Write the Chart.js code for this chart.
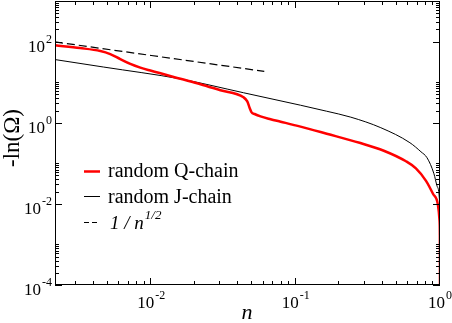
<!DOCTYPE html>
<html>
<head>
<meta charset="utf-8">
<script src="https://cdn.jsdelivr.net/npm/chart.js@4.4.1/dist/chart.umd.min.js"></script>
<style>
  html, body { margin: 0; padding: 0; background: #fff; }
</style>
</head>
<body>
<canvas id="chart" width="452" height="323"></canvas>
<script>
// values
const qChainN = [0.00215, 0.00321, 0.00443, 0.00519, 0.00609, 0.00715, 0.00839, 0.00984, 0.0159, 0.0219, 0.0301,
                 0.0435, 0.0462, 0.048, 0.0495, 0.0519, 0.0571, 0.067, 0.0787, 0.108, 0.164, 0.277, 0.408, 0.581,
                 0.681, 0.80, 0.894, 0.968, 0.992, 0.998, 0.9995, 0.9999];
const qChainV = [81.2, 69.2, 58.3, 49.1, 37.0, 28.2, 22.8, 19.3, 12.1, 8.9, 6.3,
                 4.24, 3.36, 2.31, 1.80, 1.64, 1.43, 1.22, 1.06, 0.80, 0.535, 0.32, 0.204, 0.112,
                 0.075, 0.037, 0.0177, 0.0094, 0.004, 0.0017, 0.0003, 0.00005];

const jChainN = [0.00215, 0.00465, 0.0159, 0.0436, 0.108, 0.164, 0.241, 0.389, 0.619, 0.738, 0.813, 0.908, 0.953,
                 0.989, 0.997, 0.9995, 0.99995];
const jChainV = [36, 23.6, 12.0, 5.47, 2.70, 1.92, 1.37, 0.753, 0.321, 0.192, 0.137, 0.0551, 0.0278,
                 0.0141, 0.005, 0.001, 0.0001];

const powerN = [0.00215, 0.01, 0.0606];
const powerV = [98, 45.4, 18.4];

const xTickLabels = [0.01, 0.1, 1];
const yTickLabels = [1e-4, 1e-2, 1, 1e2];

const serif = "'Liberation Serif', 'Times New Roman', serif";

function toPoints(ns, vs) {
    return ns.map((n, i) => ({ x: n, y: vs[i] }));
}

// "10" with a raised exponent, anchored at x (align: 'center' or 'right')
function drawPow(ctx, v, x, baseY, expY, align) {
    const exp = String(Math.round(Math.log10(v)));
    ctx.font = '17px ' + serif;
    const wb = ctx.measureText('10').width;
    ctx.font = '12px ' + serif;
    const we = ctx.measureText(exp).width;
    let left = align === 'right' ? x - wb - we - 1 : x - (wb + we + 1) / 2;
    ctx.textAlign = 'left';
    ctx.textBaseline = 'alphabetic';
    ctx.font = '17px ' + serif;
    ctx.fillText('10', left, baseY);
    ctx.font = '12px ' + serif;
    ctx.fillText(exp, left + wb + 1, expY);
}

const framePlugin = {
    id: 'frame',
    afterDraw(chart) {
        const ctx = chart.ctx;
        const a = chart.chartArea;
        const xs = chart.scales.x, ys = chart.scales.y;
        ctx.save();
        ctx.strokeStyle = '#000';
        ctx.lineWidth = 1;

        // inward ticks on all four sides
        ctx.beginPath();
        for (let e = -3; e <= 0; e++) {
            for (let k = 1; k <= 9; k++) {
                const v = k * Math.pow(10, e);
                if (v < xs.min || v > xs.max * 1.0001) continue;
                const px = Math.round(xs.getPixelForValue(v)) - 0.5;
                const len = k === 1 ? 7 : 4;
                ctx.moveTo(px, a.bottom); ctx.lineTo(px, a.bottom - len);
                ctx.moveTo(px, a.top); ctx.lineTo(px, a.top + len);
            }
        }
        for (let e = -4; e <= 3; e++) {
            const kmax = (e % 2 === 0) ? 9 : 1;
            for (let k = 1; k <= kmax; k++) {
                const v = k * Math.pow(10, e);
                if (v < ys.min || v > ys.max * 1.0001) continue;
                const py = Math.round(ys.getPixelForValue(v)) + 0.5;
                const len = (k === 1 && e % 2 === 0) ? 7 : 4;
                ctx.moveTo(a.left, py); ctx.lineTo(a.left + len, py);
                ctx.moveTo(a.right, py); ctx.lineTo(a.right - len, py);
            }
        }
        ctx.stroke();

        ctx.strokeRect(a.left + 0.5, a.top + 0.5, a.right - a.left - 1, a.bottom - a.top - 1);

        // tick labels
        ctx.fillStyle = '#000';
        xTickLabels.forEach(v => {
            drawPow(ctx, v, xs.getPixelForValue(v), 308, 299, 'center');
        });
        yTickLabels.forEach(v => {
            const py = ys.getPixelForValue(v);
            drawPow(ctx, v, 52, py + 10, py + 1, 'right');
        });

        // axis titles
        ctx.font = 'italic 22px ' + serif;
        ctx.textAlign = 'center';
        ctx.fillText('n', 247, 319);
        ctx.save();
        ctx.translate(19, 138);
        ctx.rotate(-Math.PI / 2);
        ctx.font = '23px ' + serif;
        ctx.fillText('-ln(\u03A9)', 0, 0);
        ctx.restore();

        // legend
        const rows = [
            { y: 171, color: '#ff0000', width: 2.5, dash: [] },
            { y: 196, color: '#000', width: 1, dash: [] },
            { y: 222, color: '#000', width: 1, dash: [5, 3] }
        ];
        rows.forEach(r => {
            ctx.beginPath();
            ctx.strokeStyle = r.color;
            ctx.lineWidth = r.width;
            ctx.setLineDash(r.dash);
            ctx.moveTo(84, r.y + 0.5);
            ctx.lineTo(100, r.y + 0.5);
            ctx.stroke();
        });
        ctx.setLineDash([]);
        ctx.textAlign = 'left';
        ctx.font = '20px ' + serif;
        ctx.fillText('random Q-chain', 108, 177);
        ctx.fillText('random J-chain', 108, 203);
        ctx.font = 'italic 19px ' + serif;
        ctx.fillText('1 / n', 110, 229);
        const w = ctx.measureText('1 / n').width;
        ctx.font = 'italic 13px ' + serif;
        ctx.fillText('1/2', 110 + w + 1, 219);
        ctx.restore();
    }
};

new Chart(document.getElementById('chart').getContext('2d'), {
    type: 'line',
    data: {
        datasets: [
            {
                label: 'random Q-chain',
                data: toPoints(qChainN, qChainV),
                borderColor: '#ff0000',
                borderWidth: 2.5,
                pointRadius: 0,
                cubicInterpolationMode: 'monotone',
                fill: false
            },
            {
                label: 'random J-chain',
                data: toPoints(jChainN, jChainV),
                borderColor: '#000',
                borderWidth: 1,
                pointRadius: 0,
                cubicInterpolationMode: 'monotone',
                fill: false
            },
            {
                label: '1 / n^1/2',
                data: toPoints(powerN, powerV),
                borderColor: '#000',
                borderWidth: 1.2,
                borderDash: [8, 4],
                pointRadius: 0,
                fill: false
            }
        ]
    },
    options: {
        responsive: false,
        animation: false,
        events: [],
        layout: { padding: { left: 55, right: 12, top: 1, bottom: 38 } },
        plugins: { legend: { display: false }, tooltip: { enabled: false } },
        scales: {
            x: { type: 'logarithmic', min: 0.00215, max: 1, display: false },
            y: { type: 'logarithmic', min: 1e-4, max: 1e3, display: false }
        }
    },
    plugins: [framePlugin]
});
</script>
</body>
</html>
